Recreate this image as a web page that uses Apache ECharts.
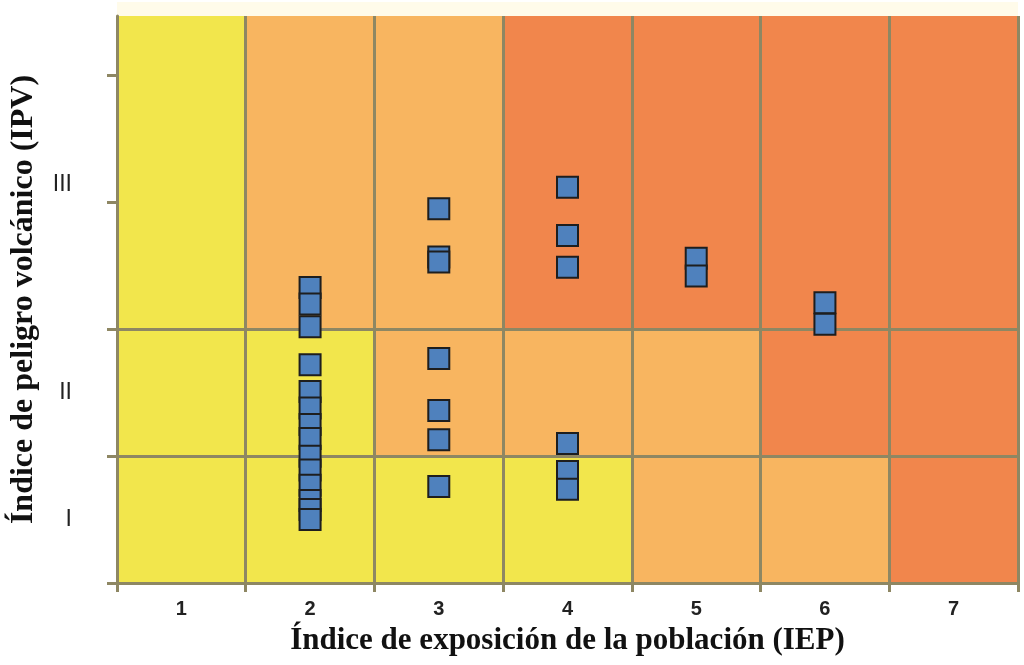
<!DOCTYPE html>
<html><head><meta charset="utf-8">
<script src="https://cdn.jsdelivr.net/npm/echarts@6/dist/echarts.min.js"></script>
<style>html,body{margin:0;padding:0;background:#fff}#c{width:1024px;height:665px}</style>
</head><body><div id="c"></div>
<script>
// ---- data ----
const iepLabels = [1, 2, 3, 4, 5, 6, 7];
const ipvLabels = ['I', 'II', 'III'];
const ipvLabelValues = [0.5, 1.5, 3.14];
const ipvTickValues = [0, 1, 2, 3, 4];
const ipvBands = [[0, 1], [1, 2], [2, 4.47]];
// risk level per cell (0 yellow, 1 light orange, 2 orange), columns IEP 1..7
const cellLevelsRowI   = [0, 0, 0, 0, 1, 1, 2];
const cellLevelsRowII  = [0, 0, 1, 1, 1, 2, 2];
const cellLevelsRowIII = [0, 1, 1, 2, 2, 2, 2];
const levelColors = ['#F2E64C', '#F8B560', '#F1864C'];
// points: IPV values at each IEP column
const ipvAtIEP2 = [2.33, 2.20, 2.02, 1.72, 1.51, 1.38, 1.25, 1.14, 1.00, 0.89, 0.77, 0.65, 0.58, 0.50];
const ipvAtIEP3 = [2.95, 2.57, 2.53, 1.77, 1.36, 1.13, 0.76];
const ipvAtIEP4 = [3.12, 2.74, 2.49, 1.10, 0.88, 0.74];
const ipvAtIEP5 = [2.56, 2.42];
const ipvAtIEP6 = [2.21, 2.04];

// ---- build ----
const lineColor = '#8E8763';
const rows = [cellLevelsRowI, cellLevelsRowII, cellLevelsRowIII];
const areas = [];
rows.forEach((row, r) => {
  row.forEach((lvl, c) => {
    areas.push([
      { xAxis: iepLabels[c] - 0.5, yAxis: ipvBands[r][0], itemStyle: { color: levelColors[lvl] } },
      { xAxis: iepLabels[c] + 0.5, yAxis: ipvBands[r][1] }
    ]);
  });
});
const lines = [];
iepLabels.forEach(v => lines.push({ xAxis: v + 0.5 }));
[1, 2].forEach(v => lines.push({ yAxis: v }));

const points = [];
[[2, ipvAtIEP2], [3, ipvAtIEP3], [4, ipvAtIEP4], [5, ipvAtIEP5], [6, ipvAtIEP6]].forEach(([x, arr]) => {
  arr.forEach(y => points.push([x, y]));
});

const chart = echarts.init(document.getElementById('c'), null, { renderer: 'canvas' });
chart.setOption({
  animation: false,
  backgroundColor: '#ffffff',
  grid: { left: 117, right: 6, top: 16, bottom: 82 },
  graphic: [{ type: 'rect', left: 117, top: 2, shape: { width: 901, height: 14 }, style: { fill: '#FFFBEA' }, silent: true, z: -1 }],
  xAxis: {
    type: 'value', min: 0.5, max: 7.5, z: 10,
    name: 'Índice de exposición de la población (IEP)',
    nameLocation: 'middle', nameGap: 42,
    nameTextStyle: { fontFamily: 'Liberation Serif', fontWeight: 'bold', fontSize: 31, color: '#111' },
    axisLine: { show: true, lineStyle: { color: lineColor, width: 3 } },
    axisTick: { show: true, length: 9, customValues: iepLabels.map(v => v - 0.5).concat([7.5]), lineStyle: { color: lineColor, width: 3 } },
    axisLabel: { customValues: iepLabels, margin: 16, fontFamily: 'Liberation Sans', fontWeight: 'bold', fontSize: 20, color: '#222' },
    splitLine: { show: false }
  },
  yAxis: {
    type: 'value', min: 0, max: 4.47, z: 10,
    name: 'Índice de peligro volcánico (IPV)',
    nameLocation: 'middle', nameGap: 77, nameRotate: 90,
    nameTextStyle: { fontFamily: 'Liberation Serif', fontWeight: 'bold', fontSize: 32, color: '#111' },
    axisLine: { show: true, lineStyle: { color: lineColor, width: 3 } },
    axisTick: { show: true, length: 10, customValues: ipvTickValues, lineStyle: { color: lineColor, width: 3 } },
    axisLabel: {
      customValues: ipvLabelValues, margin: 45,
      fontFamily: 'Liberation Sans', fontSize: 23, color: '#222',
      formatter: v => { const i = ipvLabelValues.findIndex(t => Math.abs(t - v) < 1e-6); return i >= 0 ? ipvLabels[i] : ''; }
    },
    splitLine: { show: false }
  },
  series: [
    {
      type: 'scatter', data: [], z: 1, silent: true,
      markArea: { silent: true, data: areas, itemStyle: { borderWidth: 0 } },
      markLine: {
        silent: true, symbol: 'none', label: { show: false },
        lineStyle: { color: lineColor, width: 3, type: 'solid' },
        data: lines
      }
    },
    {
      type: 'scatter', z: 5, data: points,
      symbol: 'rect', symbolSize: 21,
      itemStyle: { color: '#4F81BD', borderColor: '#1E1E1E', borderWidth: 2, opacity: 1 }
    }
  ]
});
</script></body></html>
